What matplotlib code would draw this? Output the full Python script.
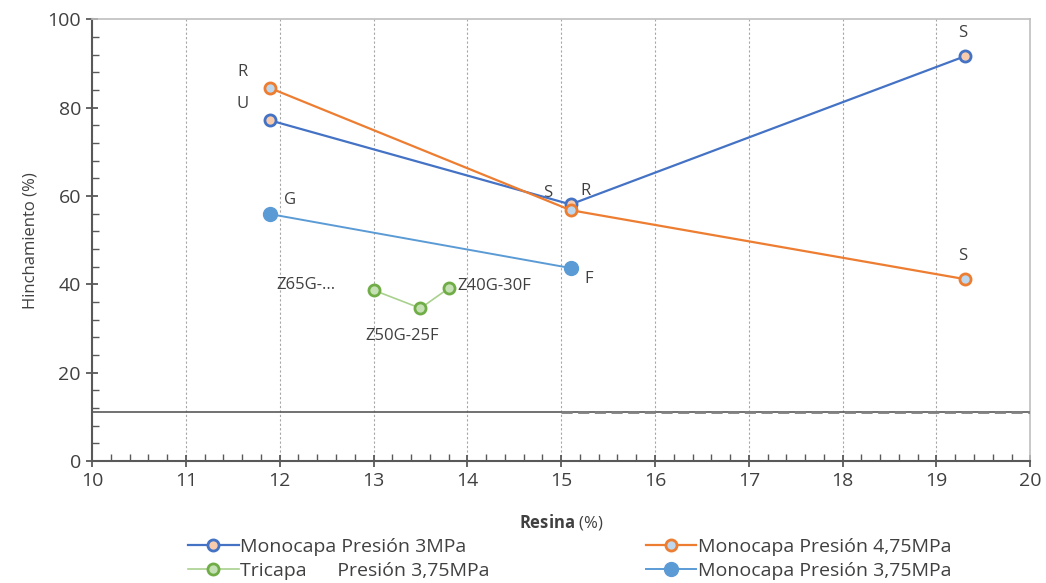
import matplotlib
matplotlib.use("Agg")
import matplotlib.pyplot as plt
from matplotlib.ticker import MultipleLocator

plt.rcParams["font.family"] = ["Open Sans", "DejaVu Sans"]
plt.rcParams["mathtext.fontset"] = "custom"
plt.rcParams["mathtext.bf"] = "Open Sans:bold"
plt.rcParams["mathtext.rm"] = "Open Sans"

# Monocapa 3MPa
x_3 = [11.9, 15.1, 19.3]
y_3 = [77.1, 58.1, 91.6]
lab_3 = ["U", "S", "S"]

# Monocapa 4,75MPa
x_475 = [11.9, 15.1, 19.3]
y_475 = [84.4, 56.8, 41.2]
lab_475 = ["R", "R", "S"]

# Tricapa 3,75MPa
x_tri = [13.0, 13.5, 13.8]
y_tri = [38.7, 34.6, 39.1]
lab_tri = ["Z65G-...", "Z50G-25F", "Z40G-30F"]

# Monocapa 3,75MPa
x_375 = [11.9, 15.1]
y_375 = [55.9, 43.7]
lab_375 = ["G", "F"]

ref_y = 11.1
ref_dash_from = 15

fig = plt.figure(figsize=(10.46, 5.83), dpi=100)
ax = fig.add_axes([0.088, 0.209, 0.897, 0.758])

l3, = ax.plot(x_3, y_3, "-o", color="#4472C4", lw=1.6, ms=8, mfc="#F8CBAD",
              mec="#4472C4", mew=2, label="Monocapa Presión 3MPa", zorder=4)
l475, = ax.plot(x_475, y_475, "-o", color="#ED7D31", lw=1.6, ms=8, mfc="#BDD7EE",
                mec="#ED7D31", mew=2, label="Monocapa Presión 4,75MPa", zorder=4)
ltri, = ax.plot(x_tri, y_tri, "-o", color="#A9D18E", lw=1.2, ms=8, mfc="#C5E0B4",
                mec="#70AD47", mew=2, label="Tricapa      Presión 3,75MPa", zorder=4)
l375, = ax.plot(x_375, y_375, "-o", color="#5B9BD5", lw=1.4, ms=10, mfc="#5B9BD5",
                mec="#5B9BD5", label="Monocapa Presión 3,75MPa", zorder=4)

ax.axhline(ref_y, color="#595959", lw=1.2, zorder=3)
ax.plot([ref_dash_from, 20], [ref_y, ref_y], color="#808080", lw=2,
        ls=(0, (4, 2)), zorder=3)

fs = 12
tc = "#404040"
def lab(text, xy, off):
    ax.annotate(text, xy, xytext=off, textcoords="offset points", fontsize=fs, color=tc)

lab(lab_3[0], (x_3[0], y_3[0]), (-24, 9))
lab(lab_3[1], (x_3[1], y_3[1]), (-20, 5))
lab(lab_3[2], (x_3[2], y_3[2]), (-5, 14))
lab(lab_475[0], (x_475[0], y_475[0]), (-24, 9))
lab(lab_475[1], (x_475[1], y_475[1]), (7, 11))
lab(lab_475[2], (x_475[2], y_475[2]), (-5, 14))
lab(lab_375[0], (x_375[0], y_375[0]), (10, 7))
lab(lab_375[1], (x_375[1], y_375[1]), (10, -11))
lab(lab_tri[0], (x_tri[0], y_tri[0]), (-70, 1))
lab(lab_tri[1], (x_tri[1], y_tri[1]), (-40, -23))
lab(lab_tri[2], (x_tri[2], y_tri[2]), (6, -1))

ax.set_xlim(10, 20)
ax.set_ylim(0, 100)
ax.xaxis.set_major_locator(MultipleLocator(1))
ax.xaxis.set_minor_locator(MultipleLocator(0.2))
ax.yaxis.set_major_locator(MultipleLocator(20))
ax.yaxis.set_minor_locator(MultipleLocator(4))
ax.grid(axis="x", which="major", color="#a6a6a6", ls=(0, (2, 2)), lw=0.8)

for s in ["top", "right"]:
    ax.spines[s].set_color("#bfbfbf")
    ax.spines[s].set_linewidth(1.2)
for s in ["left", "bottom"]:
    ax.spines[s].set_color("#595959")
    ax.spines[s].set_linewidth(1.5)

ax.tick_params(which="major", direction="inout", length=9, width=1.3, color="#595959",
               labelsize=14, labelcolor=tc)
ax.tick_params(which="minor", direction="in", length=5, width=1, color="#595959")

ax.set_xlabel(r"$\bf{Resina}$ (%)", fontsize=12, color=tc, labelpad=16)
ax.set_ylabel("Hinchamiento (%)", fontsize=12, color=tc, labelpad=6)

fig.legend(handles=[l3, ltri, l475, l375], loc="lower left",
           bbox_to_anchor=(0.163, -0.025), ncol=2, frameon=False,
           fontsize=14, labelcolor=tc, columnspacing=8.0, handlelength=2.6,
           handletextpad=0.1, labelspacing=0.3)

fig.savefig("out.png", dpi=100)
